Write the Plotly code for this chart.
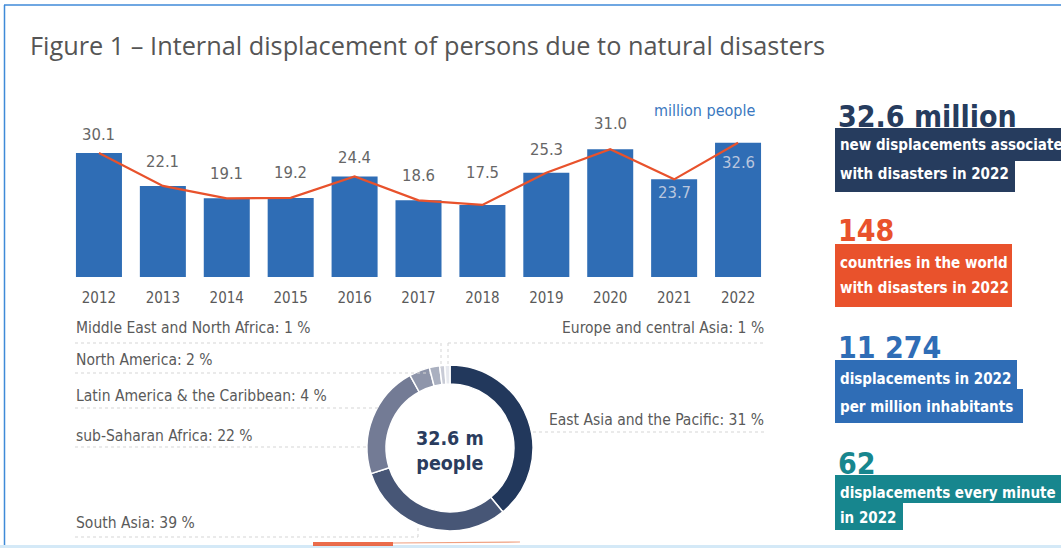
import plotly.graph_objects as go

# ---------------- data ----------------
years = ["2012", "2013", "2014", "2015", "2016", "2017", "2018", "2019", "2020", "2021", "2022"]
displaced = [30.1, 22.1, 19.1, 19.2, 24.4, 18.6, 17.5, 25.3, 31.0, 23.7, 32.6]

# ring segments in drawing order (clockwise from 12 o'clock)
ring_regions = ["East Asia and the Pacific", "South Asia", "sub-Saharan Africa",
                "Latin America & the Caribbean", "North America",
                "Middle East and North Africa", "Europe and central Asia"]
ring_shares = [39, 31, 22, 4, 2, 1, 1]   # arc sizes as drawn

label_texts = ["Middle East and North Africa: 1 %", "North America: 2 %",
               "Latin America & the Caribbean: 4 %", "sub-Saharan Africa: 22 %",
               "South Asia: 39 %"]
right_label_texts = ["Europe and central Asia: 1 %", "East Asia and the Pacific: 31 %"]

kpi_values = ["32.6 million", "148", "11 274", "62"]
kpi_lines = [["new displacements associated", "with disasters in 2022"],
             ["countries in the world", "with disasters in 2022"],
             ["displacements in 2022", "per million inhabitants"],
             ["displacements every minute", "in 2022"]]

# ---------------- styles / layout helpers ----------------
W, H = 1061, 548
def X(px): return px / W
def Y(py): return 1 - py / H

NARROW = "Liberation Sans Narrow, DejaVu Sans Condensed, Roboto Condensed, Roboto, sans-serif"
BAR = "#2f6db5"
ORANGE = "#e8522c"
GREY = "#5a5a5a"

label_offsets = [18, 24, 25, 25, 19, 25, 32, 23, 26, -13, -20]
ring_colors = ["#22385c", "#475676", "#737b95", "#8e95aa", "#aab0c0", "#c8cbd6", "#e6e8ee"]

fig = go.Figure()

fig.add_trace(go.Bar(x=years, y=displaced, marker_color=BAR, marker_line_width=0,
                     hoverinfo="skip", showlegend=False))
fig.add_trace(go.Scatter(x=years, y=displaced, mode="lines",
                         line=dict(color=ORANGE, width=2.2),
                         hoverinfo="skip", showlegend=False))

annotations = []
for i, (v, off) in enumerate(zip(displaced, label_offsets)):
    inside = off < 0
    annotations.append(dict(x=i, y=v, xref="x", yref="y", yshift=off, showarrow=False,
                            yanchor="middle",
                            text=f"{v:.1f}",
                            font=dict(family=NARROW, size=16.5,
                                      color="#b9c6de" if inside else "#666666")))

annotations.append(dict(x=X(757), y=Y(110), xref="paper", yref="paper", xanchor="right",
                        yanchor="middle", showarrow=False, text="million people",
                        font=dict(family=NARROW, size=16, color="#3a78c0")))

# donut
fig.add_trace(go.Pie(labels=ring_regions, values=ring_shares, sort=False, direction="clockwise",
                     rotation=0, hole=0.77, textinfo="none", hoverinfo="label+percent",
                     marker=dict(colors=ring_colors, line=dict(color="white", width=1.5)),
                     domain=dict(x=[X(367), X(533)], y=[Y(531), Y(365)]),
                     showlegend=False))

annotations.append(dict(x=X(450), y=Y(451), xref="paper", yref="paper", showarrow=False,
                        xanchor="center", yanchor="middle",
                        text="<b>32.6 m</b><br><b>people</b>",
                        font=dict(family=NARROW, size=19.5, color="#2a3c5e")))

left_label_y = [328, 360, 396, 436, 523]
for t, yy in zip(label_texts, left_label_y):
    annotations.append(dict(x=X(74), y=Y(yy), xref="paper", yref="paper", xanchor="left",
                            yanchor="middle", showarrow=False, text=t,
                            font=dict(family=NARROW, size=15.5, color=GREY)))
right_label_y = [328, 420]
for t, yy in zip(right_label_texts, right_label_y):
    annotations.append(dict(x=X(766), y=Y(yy), xref="paper", yref="paper", xanchor="right",
                            yanchor="middle", showarrow=False, text=t,
                            font=dict(family=NARROW, size=15.5, color=GREY)))

shapes = []
LEAD = dict(color="#d5d5d5", width=1, dash="dot")
def seg(x0, y0, x1, y1, line=LEAD):
    shapes.append(dict(type="line", xref="paper", yref="paper",
                       x0=X(x0), y0=Y(y0), x1=X(x1), y1=Y(y1), line=line))
seg(75, 343, 441, 343); seg(441, 343, 441, 368)
seg(75, 373, 430, 373)
seg(75, 408, 380, 408)
seg(75, 447, 367, 447)
seg(75, 537, 418, 537); seg(418, 537, 418, 525)
seg(448, 343, 765, 343); seg(448, 343, 448, 367)
seg(533, 432, 765, 432)

# KPI panels
kpi_colors = ["#263c5e", "#e9522c", "#2f6db6", "#17868e"]
kpi_big_y = [117, 230, 347, 463]
kpi_boxes = [[(128, 161, 1061), (161, 192, 1015)],
             [(244, 275, 1012), (275, 307, 1012)],
             [(360, 389, 1017), (389, 423, 1023)],
             [(475, 503, 1061), (503, 530, 903)]]
kpi_text_y = [[145, 174], [263, 288], [379, 407], [493, 518]]
for val, lines, col, by, boxes, tys in zip(kpi_values, kpi_lines, kpi_colors, kpi_big_y,
                                          kpi_boxes, kpi_text_y):
    annotations.append(dict(x=X(836), y=Y(by), xref="paper", yref="paper", xanchor="left",
                            yanchor="middle", showarrow=False, text=f"<b>{val}</b>",
                            font=dict(family=NARROW, size=30, color=col)))
    for (y0, y1, x1) in boxes:
        shapes.append(dict(type="rect", xref="paper", yref="paper", x0=X(835), x1=X(x1),
                           y0=Y(y1), y1=Y(y0), fillcolor=col, line=dict(width=0), layer="below"))
    for ln, ty in zip(lines, tys):
        annotations.append(dict(x=X(838), y=Y(ty), xref="paper", yref="paper", xanchor="left",
                                yanchor="middle", showarrow=False, text=f"<b>{ln}</b>",
                                font=dict(family=NARROW, size=15, color="white")))

# frame
shapes.append(dict(type="line", xref="paper", yref="paper", x0=X(4.5), x1=X(4.5), y0=Y(548), y1=Y(5),
                   line=dict(color="#3f8ad8", width=1.5)))
shapes.append(dict(type="line", xref="paper", yref="paper", x0=X(4), x1=X(1061), y0=Y(5), y1=Y(5),
                   line=dict(color="#3f8ad8", width=1.5)))
shapes.append(dict(type="rect", xref="paper", yref="paper", x0=X(0), x1=X(1061), y0=Y(548), y1=Y(545),
                   fillcolor="#d4e9f7", line=dict(width=0)))
shapes.append(dict(type="rect", xref="paper", yref="paper", x0=X(313), x1=X(393), y0=Y(546), y1=Y(542),
                   fillcolor=ORANGE, line=dict(width=0), opacity=0.85))
seg(393, 543, 520, 542, line=dict(color="#f0a080", width=1.2))

annotations.append(dict(x=X(28), y=Y(45), xref="paper", yref="paper", xanchor="left",
                        yanchor="middle", showarrow=False,
                        text="Figure 1 – Internal displacement of persons due to natural disasters",
                        font=dict(family="Open Sans, sans-serif", size=25.3, color="#555555")))

fig.update_layout(
    width=W, height=H, autosize=False,
    margin=dict(l=0, r=0, t=0, b=0, pad=0),
    paper_bgcolor="white", plot_bgcolor="white",
    bargap=0.28,
    xaxis=dict(domain=[X(67), X(770)], type="category", range=[-0.5, 10.5], autorange=False,
               automargin=False, showgrid=False, zeroline=False,
               showline=False, ticks="", ticklabelstandoff=10,
               tickfont=dict(family=NARROW, size=15, color=GREY), fixedrange=True),
    yaxis=dict(domain=[Y(277), Y(100)], range=[0, 177 / 4.12], autorange=False, automargin=False,
               visible=False, fixedrange=True),
    annotations=annotations, shapes=shapes,
)

fig.write_html("out.html", config=dict(displayModeBar=False),
               post_script="document.body.style.margin='0';document.body.style.overflow='hidden';")
